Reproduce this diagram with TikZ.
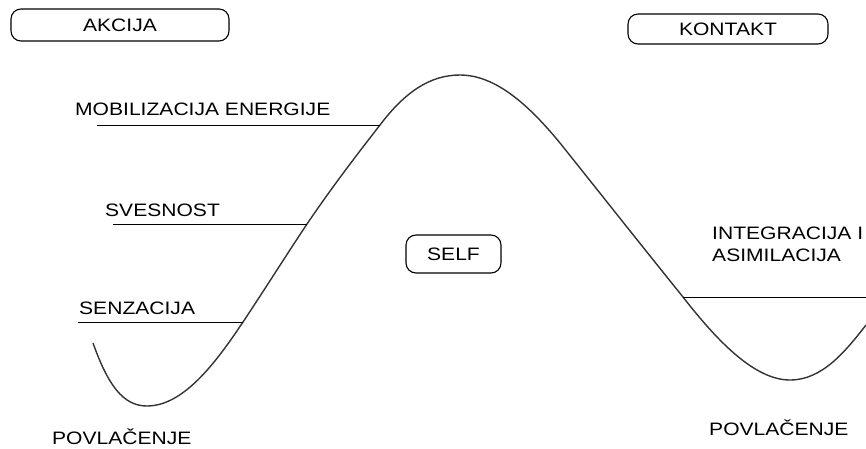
\documentclass[tikz,border=0pt]{standalone}
\usepackage{fontspec}
\setmainfont{Liberation Sans}
\newcommand{\sx}[1]{\scalebox{1.17}[1]{#1}}
\begin{document}
\begin{tikzpicture}[x=1pt,y=-1pt,
  lab/.style={font=\fontsize{18}{21.5}\selectfont, inner sep=0pt, text height=12.9pt, text depth=0pt},
  pill/.style={draw=black, line width=1.1pt, rounded corners=10pt, inner sep=0pt,
    font=\fontsize{18}{21.5}\selectfont, text height=12.9pt, text depth=0pt},
  tick/.style={draw=black, line width=1pt},
  wave/.style={draw=black!80, line width=1.4pt}]
\useasboundingbox (0,0) rectangle (866,448);

% boxes
\node[pill, minimum width=218pt, minimum height=32pt] (akcija) at (120,25) {\sx{AKCIJA}};
\node[pill, minimum width=200pt, minimum height=30pt] (kontakt) at (728,29) {\sx{KONTAKT}};
\node[pill, minimum width=95pt, minimum height=38pt] (self) at (453.5,254) {\sx{SELF}};

% curve
\coordinate (c0) at (93,343);
\coordinate (c1) at (147,406);
\coordinate (c2) at (243,322);
\coordinate (c3) at (307,224);
\coordinate (c4) at (380,125);
\coordinate (c5) at (460,75);
\coordinate (c6) at (560,143);
\coordinate (c7) at (683,297);
\coordinate (c8) at (790,380);
\coordinate (c9) at (866,325);
\draw[wave] (c0) .. controls (108,385) and (123,406) .. (c1)
  .. controls (183,406) and (215,364) .. (c2)
  .. controls (265,289) and (285,257) .. (c3)
  .. controls (330,190) and (355,157) .. (c4)
  .. controls (405,92) and (430,75) .. (c5)
  .. controls (495,75) and (528,104) .. (c6)
  .. controls (600,193) and (645,250) .. (c7)
  .. controls (718,342) and (755,380) .. (c8)
  .. controls (822,380) and (845,352) .. (c9);

% horizontal marks
\coordinate (m0) at (97,125);
\coordinate (s0) at (113,224);
\coordinate (z0) at (78,322);
\coordinate (i0) at (866,297);
\draw[tick] (m0) -- (c4);
\draw[tick] (s0) -- (c3);
\draw[tick] (z0) -- (c2);
\draw[tick] (c7) -- (i0);

% labels
\node[lab, anchor=west] (mob) at (75,109) {\sx{MOBILIZACIJA ENERGIJE}};
\node[lab, anchor=west] (sves) at (105,210) {\sx{SVESNOST}};
\node[lab, anchor=west] (senz) at (79,308) {\sx{SENZACIJA}};
\node[lab, anchor=north west, align=left] (integ) at (712,248) {\sx{INTEGRACIJA I}\\\sx{ASIMILACIJA}};
\node[lab, anchor=west] (povl1) at (52,438.5) {\sx{POVLAČENJE}};
\node[lab, anchor=west] (povl2) at (709,429.5) {\sx{POVLAČENJE}};
\end{tikzpicture}
\end{document}
